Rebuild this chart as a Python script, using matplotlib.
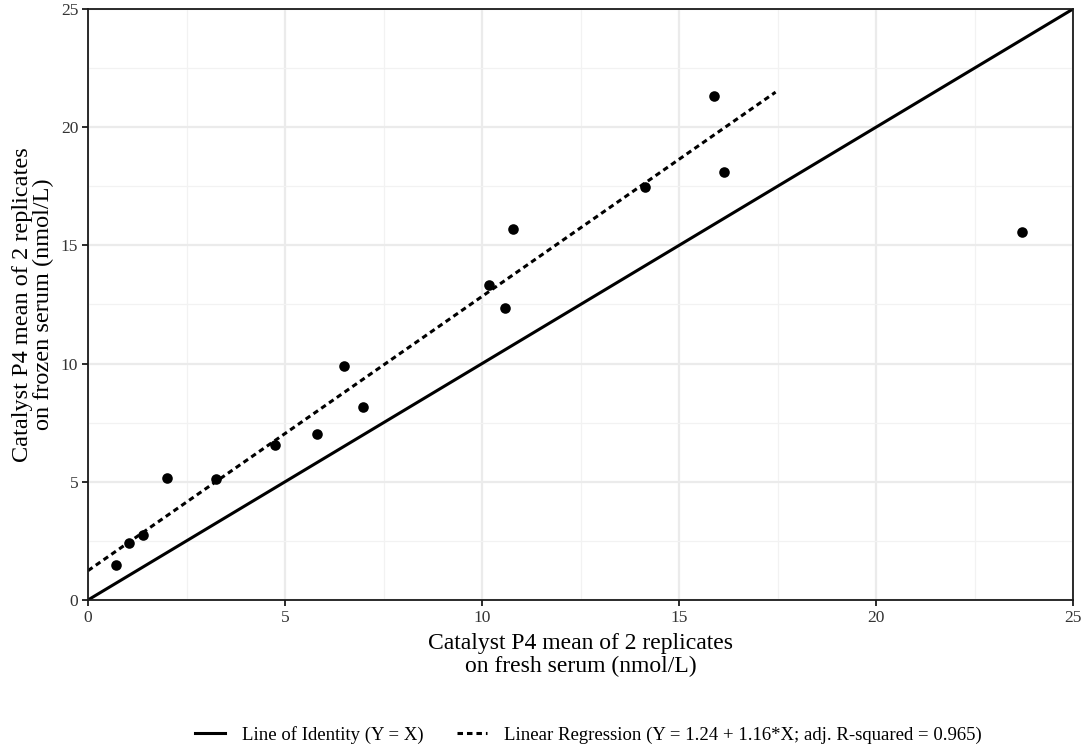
import numpy as np
import matplotlib
matplotlib.use("Agg")
import matplotlib.pyplot as plt
from matplotlib.lines import Line2D

# Data (nmol/L)
fresh = [0.71, 1.04, 1.40, 2.00, 3.25, 4.75, 5.81, 6.50, 6.98,
         10.18, 10.58, 10.79, 14.14, 15.89, 16.14, 23.70]
frozen = [1.48, 2.41, 2.74, 5.15, 5.11, 6.55, 7.01, 9.88, 8.15,
          13.34, 12.33, 15.70, 17.48, 21.33, 18.12, 15.58]

# Regression fit shown in the legend
INTERCEPT = 1.24
SLOPE = 1.16
REG_X = [0, 17.45]
IDENT_X = [0, 25]

plt.rcParams['font.family'] = ['Liberation Serif', 'DejaVu Serif']

DASH = (0, (1.8, 1.3))

fig = plt.figure(figsize=(10.84, 7.48), dpi=100)
ax = fig.add_axes([0.0812, 0.1979, 0.9087, 0.7901])

ax.set_xlim(0, 25)
ax.set_ylim(0, 25)
ax.set_xticks([0, 5, 10, 15, 20, 25])
ax.set_yticks([0, 5, 10, 15, 20, 25])
ax.set_xticks(np.arange(2.5, 25, 5), minor=True)
ax.set_yticks(np.arange(2.5, 25, 5), minor=True)
ax.grid(True, which='major', color='#EBEBEB', linewidth=1.6, zorder=0)
ax.grid(True, which='minor', color='#F2F2F2', linewidth=0.9, zorder=0)
ax.set_axisbelow(True)

for s in ax.spines.values():
    s.set_color('#1a1a1a')
    s.set_linewidth(1.3)

ax.tick_params(which='major', length=4, width=1.3, color='#1a1a1a',
               labelsize=12.5, labelcolor='#333333', pad=3)
ax.tick_params(which='minor', length=0)

ident = np.array(IDENT_X, dtype=float)
ax.plot(ident, ident, color='black', linewidth=2.2, zorder=2)

rx = np.array(REG_X, dtype=float)
ax.plot(rx, INTERCEPT + SLOPE * rx, color='black', linewidth=2.2,
        linestyle=DASH, zorder=2)

ax.scatter(fresh, frozen, s=58, color='black', zorder=3, linewidths=0)

ax.set_xlabel("Catalyst P4 mean of 2 replicates\non fresh serum (nmol/L)",
              fontsize=17, color='black', linespacing=1.15, labelpad=5)
ax.set_ylabel("Catalyst P4 mean of 2 replicates\non frozen serum (nmol/L)",
              fontsize=17.5, color='black', linespacing=1.0, labelpad=5)

handles = [
    Line2D([], [], color='black', linewidth=2.2),
    Line2D([], [], color='black', linewidth=2.2, linestyle=DASH),
]
labels = ["Line of Identity (Y = X)",
          "Linear Regression (Y = 1.24 + 1.16*X; adj. R-squared = 0.965)"]
fig.legend(handles, labels, loc='center', bbox_to_anchor=(0.5425, 0.018),
           ncol=2, frameon=False, fontsize=13.5, handlelength=1.6,
           columnspacing=1.8, handletextpad=0.9, borderpad=0)

fig.savefig("out.png", dpi=100)
